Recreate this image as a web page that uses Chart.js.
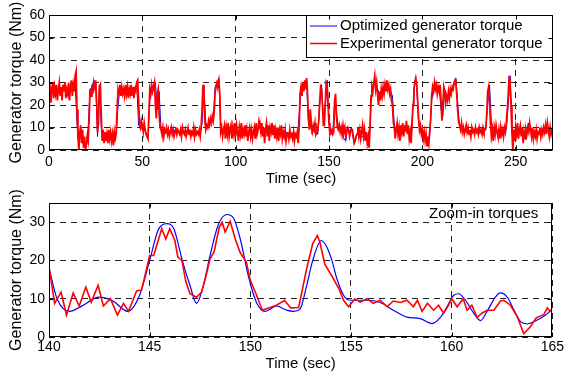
<!DOCTYPE html>
<html>
<head>
<meta charset="utf-8">
<script src="https://cdn.jsdelivr.net/npm/chart.js@4.4.1/dist/chart.umd.min.js"></script>
<style>
html, body { margin: 0; padding: 0; background: #fff; }
#wrap { position: relative; width: 566px; height: 373px; }
canvas { position: absolute; left: 0; }
#overview { top: 0; }
#zoomin { top: 185px; }
</style>
</head>
<body>
<div id="wrap">
  <canvas id="overview" width="566" height="190"></canvas>
  <canvas id="zoomin" width="566" height="188"></canvas>
</div>
<script>
const FONT = "'Liberation Sans', Arial, Helvetica, sans-serif";
const seriesNames = ['Optimized generator torque', 'Experimental generator torque'];

// overview, experimental torque sampled every 0.5 s (0..270 s)
const overviewRedStep = 0.5;
const overviewRed = [
  24,29,21,27,30,23,28,25,29,22, 27,30,24,28,22,29,26,30,23,27,
  25,30,22,28,31,24,29,26,33,35, 18,6,0,8,11,3,9,1,6,0,
  2,6,4,14,27,24,29,25,30,28, 31,22,8,12,28,29,15,4,9,3,
  8,4,7,3,9,5,8,4,7,2, 8,5,7,18,27,25,29,24,28,25,
  27,24,29,25,28,23,27,25,29,24, 28,23,27,26,30,31,22,12,10,13,
  11,8,12,9,7,6,5,15,27,25, 29,26,28,30,20,14,25,27,16,10,
  9,7,10,6,9,8,10,7,9,6, 8,10,7,9,6,8,10,7,9,8,
  7,9,6,10,8,7,9,6,8,10, 7,9,6,8,7,10,6,9,7,8,
  7,9,6,10,18,29,24,13,9,11, 10,13,11,14,12,15,13,17,26,28,
  30,29,31,25,8,10,6,9,11,5, 10,7,12,6,9,11,5,10,7,12,
  6,11,8,4,10,7,12,5,9,7, 11,6,9,4,8,10,6,9,5,8,
  10,5,12,7,9,13,11,8,12,6, 10,3,9,12,6,11,4,10,8,12,
  7,11,5,9,6,10,4,9,7,11, 5,8,6,9,4,7,8,5,9,6,
  7,5,8,4,7,6,8,3,10,25, 28,24,30,26,31,27,32,25,14,9,
  18,10,8,11,9,12,7,8,9,13, 21,28,27,20,11,11,20,30,29,20,
  12,7,8,9,7,8,22,25,15,10, 9,11,8,10,7,11,8,10,6,9,
  10,9,6,8,9,9,6,3,4,6, 7,10,6,9,5,8,11,6,9,4,
  8,3,6,1,10,24,28,26,30,33, 27,30,25,20,26,22,27,24,28,25,
  29,26,31,27,29,25,27,22,20,12, 10,5,9,12,7,10,4,11,8,12,
  6,10,9,13,7,11,5,8,3,12, 20,27,30,32,29,22,14,9,11,7,
  9,5,8,4,7,2,6,3,9,14, 24,28,26,30,27,29,25,28,26,29,
  22,13,20,28,26,21,24,22,26,23, 27,25,28,27,30,31,29,24,17,12,
  11,9,12,8,10,7,9,11,8,10, 7,9,6,10,8,9,7,10,8,9,
  7,10,8,9,7,10,8,9,10,16, 26,28,22,12,6,9,4,10,7,11,
  8,6,9,5,10,7,9,6,10,8, 12,18,24,33,30,20,8,0,9,4,
  10,7,12,5,9,11,6,10,3,8, 5,9,7,10,8,12,9,6,10,5,
  8,6,9,5,8,7,10,6,9,7, 10,8,11,7,12,9,6,10,7,9, 8
];

// overview, optimized torque sampled every 1 s (0..270 s)
const overviewBlueStep = 1;
const overviewBlue = [
  31,26,27,25,27,26,27,26,27,26,
  27,26,27,27,30,12,3,8,4,2,
  3,10,27,28,31,30,6,29,10,6,
  6,6,7,6,7,6,7,20,27,26,
  26,26,27,26,27,26,27,30,11,10,
  9,11,7,5,22,27,29,30,18,26,
  9,8,8,9,8,8,8,9,8,8,
  8,8,8,8,8,8,8,8,8,8,
  8,8,12,28,12,11,12,14,14,28,
  30,32,10,7,8,8,8,8,8,8,
  7,8,8,7,8,8,8,7,8,8,
  8,8,9,10,11,10,9,8,8,8,
  8,8,7,8,7,8,7,8,7,7,
  6,6,6,6,15,27,28,29,30,12,
  18,7,10,9,7,20,29,14,20,31,
  12,7,7,21,17,10,9,8,5,4,
  10,8,10,5,4,7,7,6,6,5,
  5,4,12,27,30,31,27,25,26,27,
  29,30,28,26,24,11,8,8,9,8,
  8,9,8,7,5,20,31,28,12,8,
  7,6,5,5,7,22,28,29,27,28,
  18,15,27,24,24,25,27,29,32,20,
  10,9,9,8,8,8,8,8,8,8,
  8,8,8,8,9,20,29,12,7,8,
  8,7,8,8,8,9,20,33,12,5,
  8,8,8,8,7,8,9,12,8,8,
  7,7,8,8,8,8,9,10,10,8,
  8
];
const overviewXTicks = [0, 50, 100, 150, 200, 250];
const overviewYTicks = [0, 10, 20, 30, 40, 50, 60];

// zoom-in window 140..165 s
const zoomRedTime = [140,140.28,140.6,140.87,141.2,141.5,141.83,142.1,142.44,142.7,143.05,143.4,143.7,143.95,
  144.35,144.6,145,145.2,145.6,145.8,146,146.25,146.4,146.6,146.8,147,147.33,147.58,147.8,148,148.2,148.45,
  148.6,148.75,149,149.25,149.5,149.8,150,150.25,150.6,150.8,151.3,151.7,152,152.4,152.8,153.1,153.33,153.45,
  153.7,154.13,154.4,154.63,154.88,155.2,155.45,155.8,156.1,156.45,156.8,157.1,157.45,157.78,158.1,158.3,
  158.53,158.8,159.1,159.35,159.6,159.85,160,160.27,160.57,160.77,161,161.27,161.5,161.76,162.1,162.42,162.6,
  162.92,163.25,163.58,163.9,164.2,164.58,164.75,164.9,165];
const zoomRedTorque = [18.3,8.8,11.7,5.7,11.5,8.1,13,9.1,13.5,8.1,10,5.7,8.8,6.7,
  12,12.3,21.3,21.3,28.3,25.6,28.3,25.2,20.9,20,14.4,11.3,10.4,11.7,16,20.4,22.2,28.5,
  30,27.4,30.2,25.6,22,19.6,14.8,11.7,7,7.4,8.3,9.6,7.6,7.7,17.9,24.4,26.5,24.8,
  19,15.2,12.6,9.6,7.9,10,9.1,10,8.8,9.6,7.9,9.4,9,9.6,7.9,9.6,
  6.7,8.8,7,8.3,6.2,8.3,10,7.9,10,7,8.3,5.1,6.2,7,7,9.4,9.6,
  8.3,5.4,0.9,2.6,5,5.9,7.6,6.7,7];
const zoomBlueTime = [140,140.4,141.03,141.6,142.5,143.2,143.9,144.5,145,145.42,145.84,146.2,146.6,147,147.33,
  147.67,148,148.4,148.83,149.17,149.5,149.9,150.3,150.73,151.3,151.8,152.14,152.47,152.8,153.1,153.52,153.8,
  154.05,154.3,154.63,154.96,155.8,156.45,157.1,157.78,158.44,159.02,159.44,159.77,160.1,160.35,160.68,161.1,
  161.43,161.76,162.17,162.42,162.76,163.1,163.42,163.75,164.08,164.58,165];
const zoomBlueTorque = [18,10,6.7,8,10.4,9.3,6.7,10.9,20,27.9,29.6,28.3,20.4,13.5,8.8,
  13.5,21.3,29.2,32,31,25.6,16,9.1,6.7,8.1,7,6.7,7.3,13.5,20,25.2,23.5,
  20,15.2,10.9,9.6,9.6,9,7,5.2,4.8,3.5,5.1,7.9,10.9,11.3,9.6,6.2,
  4.3,6.7,10.4,11.5,10.4,7,4,3.4,4,5.4,7.3];
const zoomXTicks = [140, 145, 150, 155, 160, 165];
const zoomYTicks = [0, 10, 20, 30];

function sampled(step, ys) { return ys.map((y, i) => ({ x: i * step, y: y })); }
function paired(xs, ys) { return ys.map((y, i) => ({ x: xs[i], y: y })); }

// box, inward ticks, legend and note drawn over the plot like MATLAB does
const frame = {
  id: 'frame',
  afterDatasetsDraw(chart, args, opts) {
    const { ctx, chartArea: a, scales } = chart;
    ctx.save();
    if (opts.legend) {
      const w = 247, h = 42, x0 = a.right - w, y0 = a.top;
      ctx.fillStyle = '#fff';
      ctx.fillRect(x0, y0, w, h);
      ctx.strokeStyle = '#000';
      ctx.lineWidth = 1;
      ctx.strokeRect(Math.round(x0) + 0.5, Math.round(y0) + 0.5, w - 1, h);
      const rows = [{ c: '#0000ff', y: y0 + 11, t: seriesNames[0] }, { c: '#ff0000', y: y0 + 28.5, t: seriesNames[1] }];
      ctx.font = '15px ' + FONT;
      ctx.textBaseline = 'middle';
      ctx.textAlign = 'left';
      rows.forEach(r => {
        ctx.strokeStyle = r.c;
        ctx.lineWidth = r.c === '#ff0000' ? 1.5 : 1;
        ctx.beginPath();
        ctx.moveTo(x0 + 4, r.y);
        ctx.lineTo(x0 + 31, r.y);
        ctx.stroke();
        ctx.fillStyle = '#000';
        ctx.fillText(r.t, x0 + 34, r.y);
      });
    }
    if (opts.note) {
      ctx.font = '15px ' + FONT;
      ctx.fillStyle = '#000';
      ctx.textAlign = 'right';
      ctx.textBaseline = 'middle';
      ctx.fillText(opts.note, a.right - 14, a.top + 11);
    }
    ctx.strokeStyle = '#000';
    ctx.lineWidth = 1;
    const L = Math.round(a.left) + 0.5, R = Math.round(a.right) - 0.5;
    const T = Math.round(a.top) + 0.5, B = Math.round(a.bottom) - 0.5;
    ctx.beginPath();
    opts.xTicks.forEach(v => {
      const px = Math.round(scales.x.getPixelForValue(v)) + 0.5;
      ctx.moveTo(px, B); ctx.lineTo(px, B - 4);
      ctx.moveTo(px, T); ctx.lineTo(px, T + 4);
    });
    opts.yTicks.forEach(v => {
      const py = Math.round(scales.y.getPixelForValue(v)) + 0.5;
      ctx.moveTo(L, py); ctx.lineTo(L + 4, py);
      ctx.moveTo(R, py); ctx.lineTo(R - 4, py);
    });
    ctx.stroke();
    ctx.strokeRect(L, T, R - L, B - T);
    ctx.restore();
  }
};

function makeScales(xr, yr, xTicks, yTicks, xHeight, tickPad, xTitlePad) {
  const grid = { color: '#222', lineWidth: 1, drawTicks: false };
  const border = { display: false, dash: [6, 5] };
  return {
    x: {
      type: 'linear', min: xr[0], max: xr[1], grid: grid, border: border,
      afterBuildTicks: s => { s.ticks = xTicks.map(v => ({ value: v })); },
      afterFit: s => { s.height = xHeight; },
      ticks: { color: '#000', font: { family: FONT, size: 14 }, padding: tickPad, maxRotation: 0, autoSkip: false },
      title: { display: true, text: 'Time (sec)', color: '#000', font: { family: FONT, size: 15 }, padding: { top: 0, bottom: xTitlePad } }
    },
    y: {
      type: 'linear', min: yr[0], max: yr[1], grid: grid, border: border,
      afterBuildTicks: s => { s.ticks = yTicks.map(v => ({ value: v })); },
      afterFit: s => { s.width = 49; },
      ticks: { color: '#000', font: { family: FONT, size: 14 }, padding: 4, autoSkip: false },
      title: { display: true, text: 'Generator torque (Nm)', color: '#000', font: { family: FONT, size: 16 }, padding: { top: 7, bottom: 0 } }
    }
  };
}

const common = { responsive: false, animation: false, devicePixelRatio: 1, events: [] };

new Chart(document.getElementById('overview'), {
  type: 'line',
  data: {
    datasets: [
      { label: seriesNames[0], data: sampled(overviewBlueStep, overviewBlue), borderColor: '#0000ff', borderWidth: 1, pointRadius: 0, tension: 0, order: 1 },
      { label: seriesNames[1], data: sampled(overviewRedStep, overviewRed), borderColor: '#ff0000', borderWidth: 1.8, pointRadius: 0, tension: 0, order: 0 }
    ]
  },
  options: Object.assign({}, common, {
    layout: { padding: { top: 15, right: 13, left: 0, bottom: 0 } },
    scales: makeScales([0, 270], [0, 60], overviewXTicks, overviewYTicks, 40, 4, 2),
    plugins: { legend: { display: false }, tooltip: { enabled: false }, frame: { legend: true, xTicks: overviewXTicks, yTicks: overviewYTicks } }
  }),
  plugins: [frame]
});

new Chart(document.getElementById('zoomin'), {
  type: 'line',
  data: {
    datasets: [
      { label: seriesNames[0], data: paired(zoomBlueTime, zoomBlueTorque), borderColor: '#0000ff', borderWidth: 1.2, pointRadius: 0, cubicInterpolationMode: 'monotone', order: 1 },
      { label: seriesNames[1], data: paired(zoomRedTime, zoomRedTorque), borderColor: '#ff0000', borderWidth: 1.6, pointRadius: 0, tension: 0, order: 0 }
    ]
  },
  options: Object.assign({}, common, {
    layout: { padding: { top: 18, right: 13, left: 0, bottom: 0 } },
    scales: makeScales([140, 165], [0, 35], zoomXTicks, zoomYTicks, 36, 2, 0),
    plugins: { legend: { display: false }, tooltip: { enabled: false }, frame: { note: 'Zoom-in torques', xTicks: zoomXTicks, yTicks: zoomYTicks } }
  }),
  plugins: [frame]
});
</script>
</body>
</html>
